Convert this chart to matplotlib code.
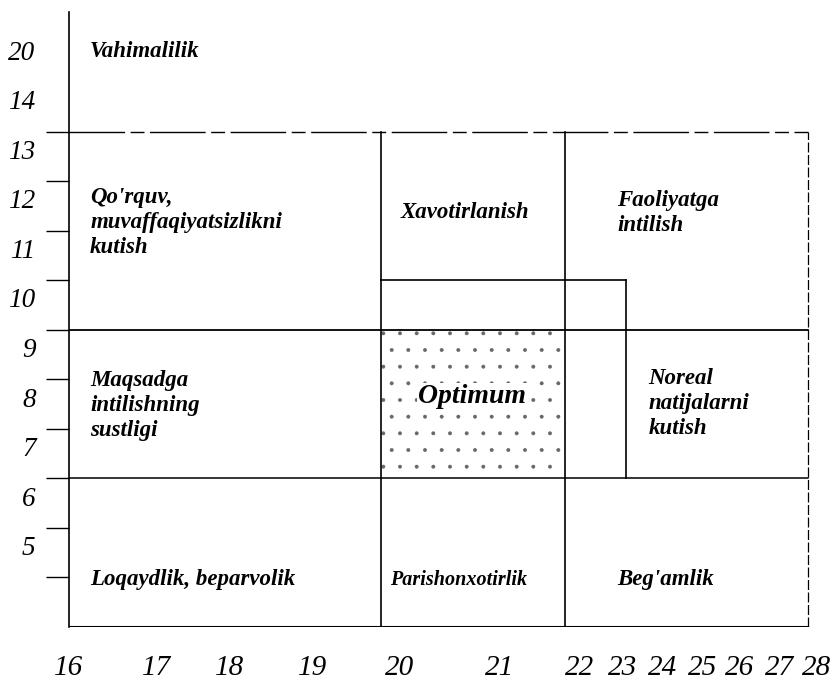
import numpy as np
import matplotlib
matplotlib.use("Agg")
import matplotlib.pyplot as plt
from matplotlib.scale import FuncScale
from matplotlib.patches import Rectangle

# axis labels
x_tick_vals = [16, 17, 18, 19, 20, 21, 22, 23, 24, 25, 26, 27, 28]
y_tick_labels = ['20', '14', '13', '12', '11', '10', '9', '8', '7', '6', '5']
y_label_levels = [15, 14, 13, 12, 11, 10, 9, 8, 7, 6, 5]
y_tick_levels = [4, 5, 6, 7, 8, 9, 10, 11, 12, 13]

# region boundaries (in axis values)
x_bounds = [16, 19.78, 21.81, 23.08, 27.76]
y_bounds = [3, 6, 9, 10, 13]

# region names
zones = ["Vahimalilik",
         "Qo'rquv,\nmuvaffaqiyatsizlikni\nkutish",
         "Xavotirlanish",
         "Faoliyatga\nintilish",
         "Maqsadga\nintilishning\nsustligi",
         "Optimum",
         "Noreal\nnatijalarni\nkutish",
         "Loqaydlik, beparvolik",
         "Parishonxotirlik",
         "Beg'amlik"]

# the printed x scale is not even, so map value -> drawing position piecewise
x_pos = [-20, 69, 157, 230, 313, 400, 500, 580, 623, 663, 703, 740, 780, 817, 854]
x_val = [15] + x_tick_vals + [29]


def fwd(v):
    return np.interp(v, x_val, x_pos)


def inv(p):
    return np.interp(p, x_pos, x_val)


serif = ['Liberation Serif', 'DejaVu Serif']
plt.rcParams['hatch.linewidth'] = 0.35

fig = plt.figure(figsize=(8.3, 6.82), dpi=100)
ax = fig.add_axes([69 / 830, 55 / 682, 761 / 830, 615 / 682])
ax.set_xscale(FuncScale(ax.xaxis, (fwd, inv)))
ax.set_xlim(16, inv(830))
ax.set_ylim(3, 13 + 120 / 49.75)

for s in ['top', 'right', 'bottom']:
    ax.spines[s].set_visible(False)
ax.spines['left'].set_linewidth(1.2)

# x ticks: labels only
ax.set_xticks(x_tick_vals)
ax.set_xticklabels([str(v) for v in x_tick_vals], fontfamily=serif,
                   fontstyle='italic', fontsize=21)
ax.tick_params(axis='x', length=0, pad=20)

# y: short marks at the levels, labels sit just below each mark
ax.set_yticks(y_tick_levels)
ax.set_yticklabels([])
ax.tick_params(axis='y', which='major', direction='out', length=16.5, width=1)
ax.set_yticks([v - 0.36 for v in y_label_levels], minor=True)
ax.set_yticklabels(y_tick_labels, minor=True, fontfamily=serif,
                   fontstyle='italic', fontsize=19.5)
ax.tick_params(axis='y', which='minor', length=0, pad=24)

x0, xa, xb, xc, xr = x_bounds
yb, y6, y9, y10, y13 = y_bounds
lc = 'black'

# horizontal lines
ax.plot([x0, xr], [y13, y13], color=lc, lw=1, ls=(0, (40, 4, 10, 4)))
ax.plot([x0, xr], [y9, y9], color=lc, lw=1.3)
ax.plot([x0, xr], [y6, y6], color=lc, lw=1.1)
ax.plot([x0, xr], [yb, yb], color=lc, lw=1.5)
ax.plot([xa, xc], [y10, y10], color=lc, lw=1.2)

# vertical lines
ax.plot([xa, xa], [yb, y13], color=lc, lw=1.2)
ax.plot([xb, xb], [yb, y13], color=lc, lw=1.2)
ax.plot([xc, xc], [y6, y10], color=lc, lw=1.2)
ax.plot([xr, xr], [yb, y13], color=lc, lw=0.9, ls=(0, (8, 2)))

# stippled optimum cell
ax.add_patch(Rectangle((xa, y6), xb - xa, y9 - y6, facecolor='none',
                       edgecolor='#666666', hatch='.', lw=0))

tx = dict(fontfamily=serif, fontstyle='italic', fontweight='bold',
          fontsize=16.5, va='center', linespacing=1.25)
ax.text(16.24, 11.17, zones[1], ha='left', **tx)
ax.text(16.24, 14.61, zones[0], ha='left', **tx)
ax.text(20.65, 11.37, zones[2], ha='center', **tx)
ax.text(22.86, 11.35, zones[3], ha='left', **tx)
ax.text(16.24, 7.47, zones[4], ha='left', **tx)
ax.text(20.72, 7.65, zones[5], ha='center',
        bbox=dict(facecolor='white', edgecolor='none', pad=1),
        **{**tx, 'fontsize': 20})
ax.text(23.63, 7.51, zones[6], ha='left', **tx)
ax.text(16.24, 3.95, zones[7], ha='left', **tx)
ax.text(19.89, 3.95, zones[8], ha='left', **{**tx, 'fontsize': 14.5})
ax.text(22.86, 3.95, zones[9], ha='left', **tx)

fig.savefig('out.png', dpi=100)
